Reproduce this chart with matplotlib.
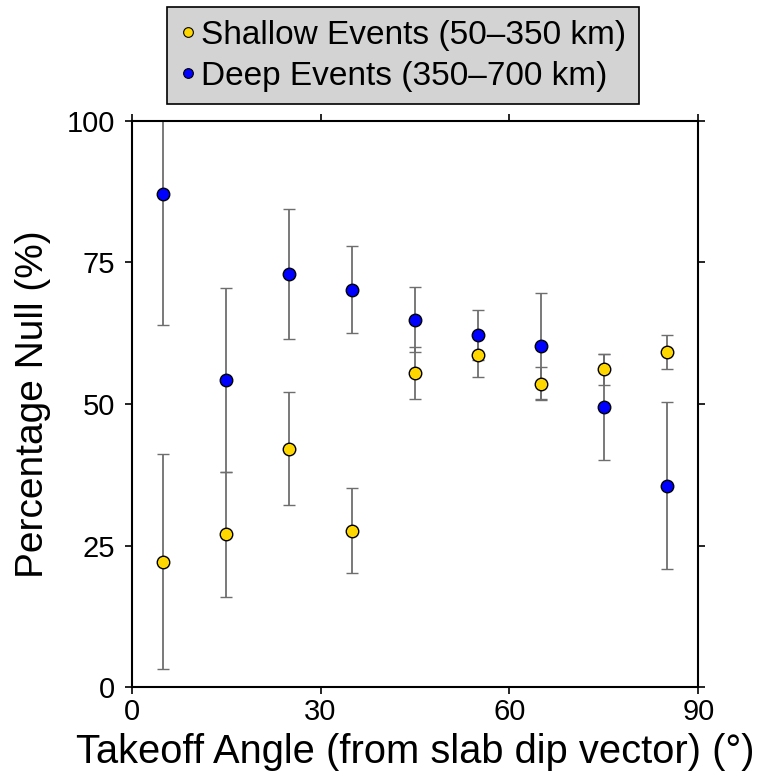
import matplotlib
matplotlib.use('Agg')
import matplotlib.pyplot as plt
from matplotlib.lines import Line2D

plt.rcParams['font.family'] = ['Liberation Sans', 'DejaVu Sans']

# 数据：起飞角分箱中心与零值百分比
angles = [5, 15, 25, 35, 45, 55, 65, 75, 85]
shallow_pct = [22.2, 27.0, 42.1, 27.6, 55.5, 58.6, 53.6, 56.1, 59.2]
shallow_err = [19.0, 11.0, 10.0, 7.5, 4.6, 3.8, 2.9, 2.7, 3.0]
deep_pct = [87.0, 54.2, 72.9, 70.2, 64.9, 62.2, 60.2, 49.5, 35.6]
deep_err = [23.1, 16.2, 11.5, 7.7, 5.8, 4.4, 9.4, 9.3, 14.7]

labels = ['Shallow Events (50\u2013350 km)', 'Deep Events (350\u2013700 km)']
colors = ['#FFD700', '#0000FF']

fig = plt.figure(figsize=(7.62, 7.83), dpi=100)
ax = fig.add_axes([0.1728, 0.1222, 0.7436, 0.7236])

for pct, err, c in [(shallow_pct, shallow_err, colors[0]), (deep_pct, deep_err, colors[1])]:
    ax.errorbar(angles, pct, yerr=err, fmt='o', color='#6e6e6e', ecolor='#6e6e6e',
                elinewidth=1.3, capsize=4, capthick=1.3, markersize=9,
                markerfacecolor=c, markeredgecolor='black', markeredgewidth=1.0,
                clip_on=True)

ax.set_xlim(0, 90)
ax.set_ylim(0, 100)
ax.set_xticks([0, 30, 60, 90])
ax.set_yticks([0, 25, 50, 75, 100])
ax.tick_params(axis='both', which='both', direction='out', length=5, width=1.2,
               labelsize=21, top=True, right=True, labeltop=False, labelright=False)
ax.tick_params(axis='y', pad=7)
ax.tick_params(axis='x', pad=3)
for s in ax.spines.values():
    s.set_linewidth(1.5)

ax.set_xlabel('Takeoff Angle (from slab dip vector) (\u00b0)', fontsize=28.7, labelpad=5)
ax.set_ylabel('Percentage Null (%)', fontsize=28, labelpad=11)

handles = [Line2D([], [], linestyle='none', marker='o', markersize=7,
                  markerfacecolor=c, markeredgecolor='black', markeredgewidth=0.8)
           for c in colors]
leg = fig.legend(handles, labels, loc='upper center', bbox_to_anchor=(0.529, 0.991),
                 fontsize=24, frameon=True, fancybox=False, framealpha=1,
                 facecolor='#d3d3d3', edgecolor='black', handlelength=0.5,
                 handletextpad=0.15, borderpad=0.38, labelspacing=0.3, borderaxespad=0)
leg.get_frame().set_linewidth(1.2)

fig.savefig('out.png', dpi=100)
